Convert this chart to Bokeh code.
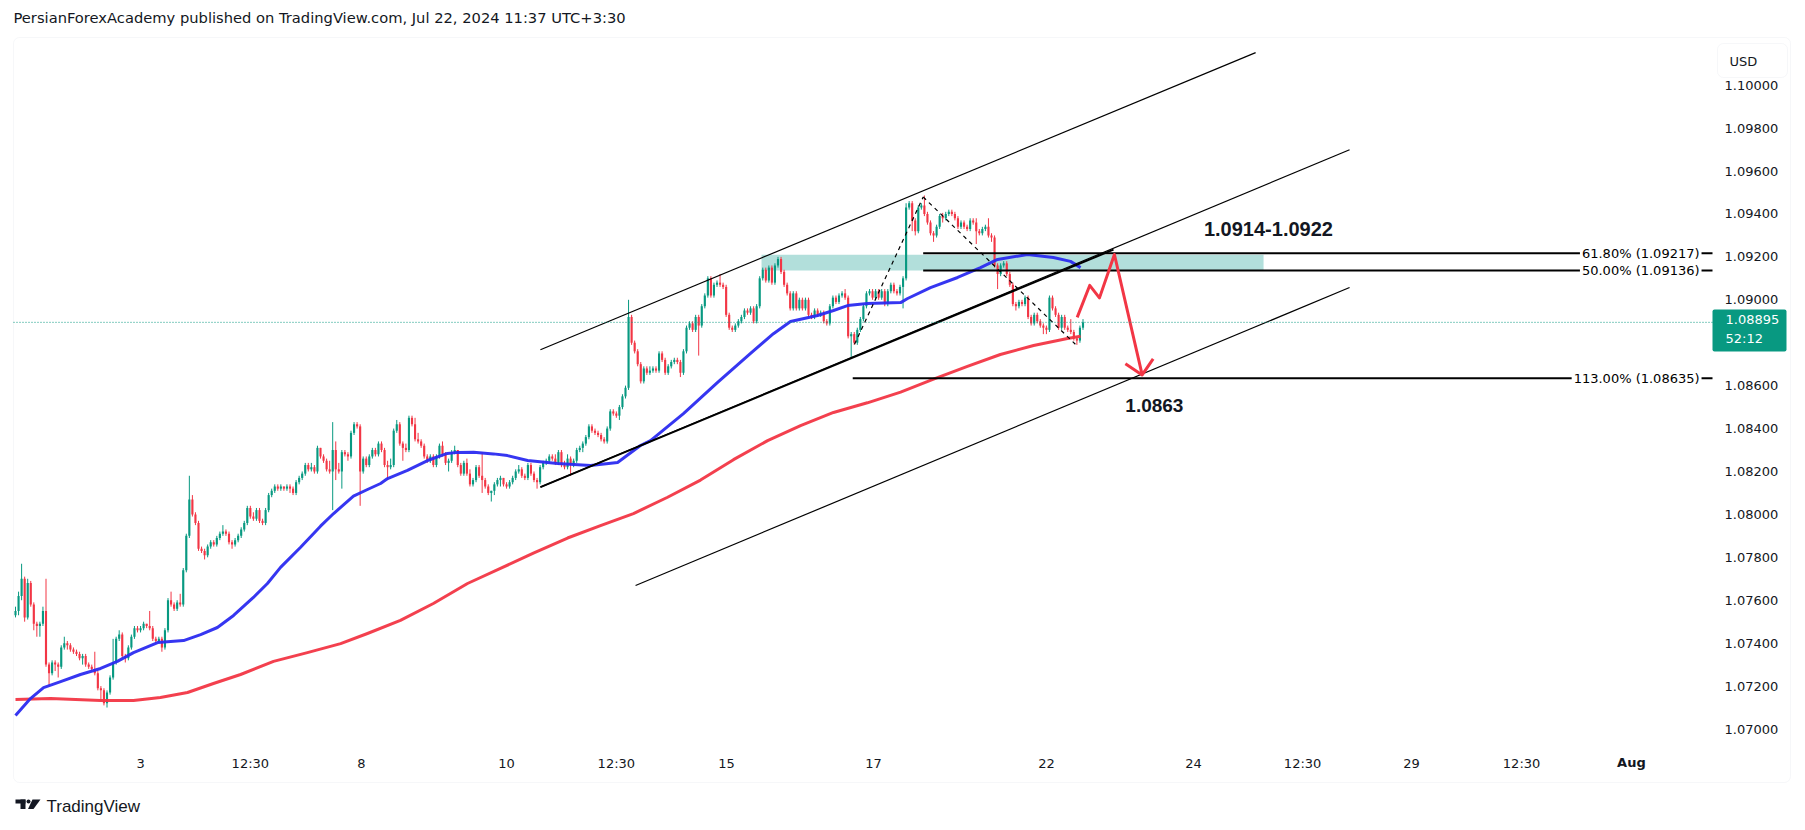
import numpy as np
from bokeh.plotting import figure
from bokeh.models import (Range1d, FixedTicker, Label, BoxAnnotation,
                          NumeralTickFormatter, ColumnDataSource)
from bokeh.embed import file_html
from bokeh.resources import INLINE
from bokeh.core.properties import value

# ---------------- data (EURUSD, 1h) : prices in pips above 1.07000 ----------------
BASE = 1.07000
PIP = 0.0001

first_open = 53
close_pips = [
    55, 62, 70, 52, 68, 58, 49, 48, 49, 55,
    30, 26, 31, 30, 29, 38, 40, 39, 37, 36,
    35, 33, 34, 30, 29, 28, 26, 19, 18, 12,
    17, 24, 31, 42, 44, 34, 33, 38, 43, 47,
    46, 47, 49, 48, 47, 42, 41, 42, 38, 46,
    60, 58, 56, 59, 58, 74, 90, 107, 100, 96,
    84, 83, 81, 85, 87, 86, 89, 91, 92, 91,
    87, 86, 88, 90, 93, 96, 103, 99, 98, 102,
    97, 96, 102, 109, 111, 113, 112, 113, 112, 113,
    112, 110, 115, 117, 119, 123, 121, 122, 120,
    131, 127, 125, 121, 120, 130, 121, 120, 129, 128,
    127, 138, 142, 141, 120, 126, 123, 127, 130, 128,
    133, 130, 123, 122, 123, 139, 142, 133, 131, 130,
    145, 142, 135, 134, 132, 127, 125, 127, 123, 127,
    132, 128, 124, 125, 129, 130, 123, 119, 124, 119,
    114, 116, 122, 118, 116, 113, 110, 111, 114, 116,
    117, 114, 113, 115, 117, 120, 121, 118, 117, 123,
    119, 116, 115, 122, 124, 125, 127, 126, 124, 129,
    123, 122, 126, 123, 125, 130, 131, 133, 136, 141,
    139, 138, 137, 135, 134, 140, 148, 147, 146, 150,
    155, 159,
    192, 180, 176, 170, 162, 168, 166, 167, 168, 167,
    175, 172, 166, 169, 171, 172, 171, 166, 176, 187,
    189, 186, 192, 188, 197, 202, 210, 202, 207, 208,
    207, 206, 193, 187, 186, 188, 190, 192, 195, 194,
    196, 190, 197, 210, 214, 209, 215, 208, 216, 219,
    213, 207, 203, 196, 203, 196, 200, 196, 200, 193,
    192, 195, 193, 194, 190, 189, 197, 201, 199, 202,
    203, 201, 183, 184, 180, 186, 191, 197, 203, 204,
    201, 204, 201, 204, 198, 204, 207, 204, 203, 206,
    210, 243,
    245, 237, 232, 243, 244, 240, 236, 231, 230, 234,
    239, 238, 240, 241, 240, 238, 234, 236, 234, 233,
    237, 236, 232, 231, 233, 234, 230, 229, 216, 212,
    216, 217, 212, 207, 198, 197, 199, 198, 201, 192,
    189, 193, 190, 188, 187, 186, 201, 196, 193, 187,
    192, 187, 186, 185, 182, 181, 187, 189.5,
]
high_pips = [
    57, 64, 77, 71, 70, 69, 59, 50, 50, 57,
    70, 31, 32, 32, 31, 39, 43, 41, 40, 38,
    37, 36, 35, 35, 31, 30, 36, 27, 20, 19,
    18, 25, 42, 43, 46, 45, 35, 39, 44, 48,
    48, 48, 50, 49, 55, 48, 43, 43, 43, 47,
    61, 64, 59, 60, 63, 75, 91, 118, 109, 101,
    97, 85, 84, 86, 88, 88, 90, 92, 95, 93,
    92, 88, 89, 91, 94, 97, 104, 104, 101, 103,
    103, 98, 103, 110, 112, 114, 114, 114, 113, 114,
    114, 113, 116, 118, 120, 124, 124, 124, 123,
    132, 131, 128, 126, 125, 143, 134, 124, 130, 130,
    129, 139, 143, 143, 142, 127, 127, 128, 131, 131,
    134, 134, 131, 125, 126, 140, 144, 143, 134, 133,
    146, 146, 145, 138, 135, 133, 128, 128, 128, 128,
    133, 134, 129, 126, 130, 132, 130, 124, 125, 126,
    121, 117, 123, 123, 129, 117, 114, 111, 115, 117,
    118, 117, 115, 116, 118, 121, 123, 122, 119, 124,
    124, 120, 117, 123, 125, 126, 128, 128, 128, 130,
    130, 125, 128, 127, 126, 131, 132, 134, 137, 142,
    142, 140, 139, 138, 136, 141, 149, 149, 148, 151,
    156, 160,
    200, 193, 181, 177, 171, 169, 169, 169, 169, 169,
    176, 176, 173, 170, 172, 173, 173, 172, 177, 188,
    190, 190, 193, 193, 198, 203, 211, 211, 208, 209,
    212, 208, 207, 194, 188, 189, 191, 193, 196, 196,
    197, 197, 198, 211, 215, 215, 216, 216, 217, 220,
    220, 214, 208, 204, 204, 204, 201, 201, 201, 201,
    194, 196, 196, 195, 195, 191, 198, 202, 202, 203,
    204, 205, 202, 185, 185, 187, 192, 198, 204, 205,
    205, 205, 205, 205, 205, 205, 208, 208, 205, 207,
    211, 245,
    246, 246, 238, 244, 245, 248.6, 241, 237, 232, 235,
    240, 240.5, 241, 242, 242, 241, 239, 237, 237, 235,
    238, 238, 238, 233, 234, 235, 238, 231, 230, 217,
    217, 218, 218, 213, 208, 199, 200, 200, 202, 202,
    193, 194, 194, 191, 189, 188, 202, 202, 197, 194,
    193, 193, 188, 191, 186, 183, 188, 191,
]
low_pips = [
    52, 53, 60, 50, 51, 57, 46, 43, 43, 48,
    29, 20, 25, 27, 24, 28, 37, 37, 36, 35,
    34, 32, 30, 29, 28, 27, 25, 18, 13, 11,
    10, 16, 23, 30, 41, 33, 31, 32, 37, 42,
    45, 45, 46, 47, 46, 41, 40, 40, 36, 37,
    45, 57, 55, 55, 57, 57, 73, 89, 99, 95,
    83, 82, 79, 80, 84, 85, 85, 88, 90, 90,
    86, 84, 85, 87, 89, 92, 95, 98, 97, 97,
    96, 95, 95, 101, 108, 110, 111, 111, 111, 111,
    110, 109, 109, 114, 116, 118, 120, 120, 119,
    119, 126, 124, 120, 119, 102, 116, 119, 112, 127,
    125, 126, 137, 140, 104, 119, 122, 122, 126, 127,
    127, 129, 122, 116, 121, 122, 138, 132, 125, 129,
    129, 141, 134, 133, 131, 126, 124, 124, 122, 122,
    126, 127, 123, 120, 124, 128, 122, 118, 118, 118,
    113, 113, 115, 117, 110, 112, 109, 106, 109, 113,
    113, 113, 112, 112, 114, 116, 119, 117, 116, 116,
    118, 115, 112, 114, 121, 123, 124, 125, 123, 123,
    122, 121, 121, 118, 122, 124, 129, 129, 132, 135,
    138, 137, 136, 134, 133, 133, 139, 146, 145, 144,
    149, 154,
    158, 179, 175, 169, 161, 161, 165, 165, 166, 166,
    166, 171, 165, 165, 168, 170, 170, 164, 165, 175,
    186, 185, 185, 174, 187, 196, 201, 201, 201, 206,
    206, 205, 192, 186, 185, 185, 187, 189, 191, 193,
    193, 189, 189, 196, 209, 208, 208, 207, 207, 215,
    212, 206, 202, 195, 195, 195, 195, 195, 195, 192,
    191, 191, 192, 192, 189, 188, 188, 196, 198, 198,
    201, 200, 182, 173, 179, 179, 185, 190, 196, 202,
    200, 200, 200, 200, 197, 197, 203, 203, 202, 202,
    196, 209,
    242, 232, 230, 231, 242, 239, 235, 230, 227, 229,
    233, 236, 237, 239, 239, 237, 233, 233, 233, 232,
    232, 235, 226, 230, 230, 232, 229, 227, 215, 205,
    211, 215, 211, 206, 197, 195, 196, 197, 197, 191,
    188, 188, 189, 187, 184, 184, 185, 195, 192, 186,
    186, 186, 185, 184, 181, 179, 180, 186,
]

# moving averages (bar index, pips above 1.07000)
blue_ma_bar = [0, 4.9, 9.2, 14.8, 21.3, 27.9, 33.4, 38.7, 46.6, 55.1,
               60.7, 66.2, 71.5, 78.0, 82.6, 86.9, 93.4, 100.0, 104.3, 110.8,
               115.4, 119.7, 122.0, 128.5, 135.1, 141.6, 144.9, 150.2, 156.7, 161.3,
               167.9, 177.7, 188.5, 197.4, 204.9, 208.2, 219.0, 230.2, 241.0, 248.5,
               254.1, 263.0, 268.2, 272.8, 279.3, 290.2, 292.5, 300.0, 308.9, 316.4,
               322.0, 331.8, 340.3, 345.9, 349.2]
blue_ma_pips = [6.3, 14.2, 19.3, 22.1, 25.4, 28.2, 31.5, 35.6, 40.3, 41.2,
                44.0, 47.3, 52.9, 61.3, 67.8, 75.3, 84.6, 94.5, 100.4, 108.5,
                111.6, 114.4, 116.7, 120.5, 125.1, 128.4, 128.9, 129.0, 128.2, 127.4,
                125.1, 123.7, 122.8, 124.2, 132.1, 134.4, 147.0, 161.5, 175.0, 184.2,
                189.9, 192.7, 195.0, 197.3, 198.3, 198.7, 200.6, 205.7, 210.4, 215.0,
                218.8, 221.1, 219.7, 217.9, 215.0]
red_ma_bar = [0, 11.5, 27.9, 38.7, 47.5, 56.4, 64.9, 73.8, 84.6, 95.7,
              106.6, 115.4, 126.2, 137.0, 148.2, 159.0, 169.8, 181.0, 191.8, 202.6,
              213.8, 224.6, 235.4, 246.6, 257.4, 268.2, 279.3, 290.2, 301.0, 312.1,
              322.9, 333.8, 344.9, 349.2]
red_ma_pips = [13.7, 14.2, 13.3, 13.3, 14.7, 17.0, 21.2, 25.4, 31.5, 35.6,
               39.8, 44.5, 50.6, 58.5, 67.8, 74.8, 82.0, 89.0, 94.8, 100.4,
               108.0, 116.0, 125.5, 134.4, 141.4, 147.5, 152.0, 157.0, 163.0, 169.0,
               174.5, 178.7, 182.0, 183.0]

# axis ticks
x_tick_pos = [41.0, 77.0, 113.4, 161.0, 197.0, 233.1, 281.3, 338.0, 386.2, 422.0, 457.7, 493.8, 529.8]
x_tick_lab = ["3", "12:30", "8", "10", "12:30", "15", "17", "22", "24", "12:30", "29", "12:30", "Aug"]
y_ticks = [1.070, 1.072, 1.074, 1.076, 1.078, 1.080, 1.082, 1.084,
           1.086, 1.088, 1.090, 1.092, 1.094, 1.096, 1.098, 1.100]

# drawings
fib_prices = [1.09217, 1.09136, 1.08635]
fib_start = [297.6, 297.6, 274.5]
fib_texts = ["61.80% (1.09217)", "50.00% (1.09136)", "113.00% (1.08635)"]
zone = dict(left=244.6, right=409.2, bottom=1.09136, top=1.09210)
chan_upper = ([172.1, 406.6], [1.08767, 1.10152])
chan_mid = ([172.1, 437.4], [1.08127, 1.09699])
trend_thick = ([172.1, 360.0], [1.08127, 1.09234])
chan_lower = ([203.3, 437.4], [1.07669, 1.09057])
dash_up = ([275.1, 297.6], [1.08793, 1.09479])
dash_down = ([297.6, 347.5], [1.09479, 1.08793])
arrow_path = ([348.1, 352.2, 355.4, 360.3, 369.4], [1.08918, 1.09067, 1.09009, 1.09211, 1.08650])
arrow_head = ([363.9, 369.4, 373.0], [1.08702, 1.08650, 1.08725])
last_price = 1.08895

UP = "#089981"
DOWN = "#f23645"
TXT = "#131722"

# ---------------- page geometry ----------------
W, H = 1800, 826          # canvas; the plotting frame covers all of it
BAR_PX, X0_PX = 3.05, 15.0  # bar spacing and pixel position of bar 0
PRICE_PX, Y0_PX = 21460.0, 728.5  # px per unit price, pixel row of 1.07000


def px2x(px):
    return (px - X0_PX) / BAR_PX


def px2y(py):
    return BASE + (Y0_PX - py) / PRICE_PX


def sbox(left, right, top, bottom, **kw):
    """box in page pixels (top-left origin)"""
    return BoxAnnotation(left=left, right=right, top=H - top, bottom=H - bottom,
                         left_units="screen", right_units="screen", top_units="screen",
                         bottom_units="screen", **kw)


PANE_RIGHT_PX, PANE_BOTTOM_PX = 1714, 748

p = figure(width=W, height=H, output_backend="svg", toolbar_location=None,
           x_range=Range1d(px2x(0), px2x(W)), y_range=Range1d(px2y(H), px2y(0)),
           y_axis_location="right",
           min_border_left=0, min_border_right=0, min_border_top=0, min_border_bottom=0)
p.title.visible = False
p.outline_line_color = None
p.xgrid.visible = False
p.ygrid.visible = False
p.background_fill_color = "white"
p.border_fill_color = "white"

for ax in (p.xaxis[0], p.yaxis[0]):
    ax.axis_line_color = None
    ax.major_tick_line_color = None
    ax.minor_tick_line_color = None
    ax.major_tick_out = 0
    ax.major_tick_in = 0
    ax.major_label_text_font = "DejaVu Sans"
    ax.major_label_text_font_size = "13px"
    ax.major_label_text_color = TXT

p.yaxis.fixed_location = px2x(PANE_RIGHT_PX)
p.yaxis.ticker = FixedTicker(ticks=y_ticks)
p.yaxis.formatter = NumeralTickFormatter(format="0.00000")
p.yaxis.major_label_standoff = 10
p.xaxis.fixed_location = px2y(PANE_BOTTOM_PX)
p.xaxis.ticker = FixedTicker(ticks=x_tick_pos)
overrides = {pos: lab for pos, lab in zip(x_tick_pos, x_tick_lab)}
overrides[x_tick_pos[-1]] = ""          # "Aug" is drawn bold below
p.xaxis.major_label_overrides = overrides
p.xaxis.major_label_standoff = 7

# outer chart border
p.add_layout(sbox(13, 1790, 37, 782, fill_color=None, line_color="#e0e3eb", line_width=1,
                  border_radius=6, level="underlay"))

# zone rectangle
p.quad(left=[zone["left"]], right=[zone["right"]], bottom=[zone["bottom"]], top=[zone["top"]],
       fill_color="#b2dfdb", line_color=None)

# candles
c = BASE + np.array(close_pips, dtype=float) * PIP
o = np.concatenate([[BASE + first_open * PIP], c[:-1]])
h = np.maximum.reduce([BASE + np.array(high_pips, dtype=float) * PIP, o, c])
l = np.minimum.reduce([BASE + np.array(low_pips, dtype=float) * PIP, o, c])
xi = np.arange(len(c))
up = c >= o
for mask, col in ((up, UP), (~up, DOWN)):
    src = ColumnDataSource(dict(x=xi[mask], top=np.maximum(o, c)[mask], bot=np.minimum(o, c)[mask],
                                hi=h[mask], lo=l[mask]))
    p.segment(x0="x", y0="hi", x1="x", y1="lo", source=src, line_color=col, line_width=1)
    p.vbar(x="x", width=0.7, top="top", bottom="bot", source=src, fill_color=col, line_color=None)

# moving averages
p.line(red_ma_bar, BASE + np.array(red_ma_pips) * PIP, line_color="#f23645", line_width=3,
       line_alpha=0.95, line_join="round")
p.line(blue_ma_bar, BASE + np.array(blue_ma_pips) * PIP, line_color="#2b2bf0", line_width=3,
       line_alpha=0.95, line_join="round")

# channel & trend lines
for xs, ys, w in ((chan_upper[0], chan_upper[1], 1.2), (chan_mid[0], chan_mid[1], 1.2),
                  (chan_lower[0], chan_lower[1], 1.2), (trend_thick[0], trend_thick[1], 2)):
    p.line(xs, ys, line_color="black", line_width=w)

# fib levels (run to the right edge of the price pane)
for fp, fs in zip(fib_prices, fib_start):
    p.line([fs, px2x(PANE_RIGHT_PX - 2)], [fp, fp], line_color="black", line_width=2)

# dashed swing lines
for xs, ys in (dash_up, dash_down):
    p.line(xs, ys, line_color="black", line_width=1.2, line_dash="4 4")

# red projection arrow
p.line(arrow_path[0], arrow_path[1], line_color="#f23645", line_width=3, line_join="round")
p.line(arrow_head[0], arrow_head[1], line_color="#f23645", line_width=3, line_join="round")

# bold annotations
p.text(x=[410.8], y=[1.09328], text=["1.0914-1.0922"],
       text_font=value("Liberation Sans"), text_font_style="bold", text_font_size="20px",
       text_align="center", text_baseline="middle", text_color=TXT)
p.text(x=[373.4], y=[1.08507], text=["1.0863"],
       text_font=value("Liberation Sans"), text_font_style="bold", text_font_size="19px",
       text_align="center", text_baseline="middle", text_color=TXT)

# last price dotted line
p.line([px2x(13), px2x(1712)], [last_price, last_price], line_color=UP, line_width=1, line_dash="1 2")

# fib labels
for fp, ft in zip(fib_prices, fib_texts):
    p.add_layout(Label(x=552.8, y=fp, text=ft, text_align="right", text_baseline="middle",
                       text_font="DejaVu Sans", text_font_size="13px", text_color="black",
                       background_fill_color="white", padding=2))

# bold "Aug" tick label
p.text(x=[x_tick_pos[-1]], y=[px2y(762)], text=["Aug"], text_font=value("DejaVu Sans"),
       text_font_style="bold", text_font_size="13px", text_align="center", text_baseline="middle",
       text_color=TXT)

# ---- price scale chrome ----
p.add_layout(sbox(1712, 1786, 309, 351, fill_color=UP, fill_alpha=1, line_color=None, border_radius=2))
p.add_layout(Label(x=1725, y=H - 318.7, x_units="screen", y_units="screen", text="1.08895",
                   text_font="DejaVu Sans", text_font_size="13px", text_color="white", text_baseline="middle"))
p.add_layout(Label(x=1725, y=H - 338.3, x_units="screen", y_units="screen", text="52:12",
                   text_font="DejaVu Sans", text_font_size="13px", text_color="white", text_baseline="middle"))
p.add_layout(sbox(1717, 1787, 43, 77, fill_color="white", fill_alpha=1, line_color="#e0e3eb",
                  line_width=1, border_radius=6))
p.add_layout(Label(x=1729, y=H - 60.5, x_units="screen", y_units="screen", text="USD",
                   text_font="DejaVu Sans", text_font_size="13px", text_color=TXT, text_baseline="middle"))

# ---- header / footer ----
p.add_layout(Label(x=13, y=H - 17, x_units="screen", y_units="screen",
                   text="PersianForexAcademy published on TradingView.com, Jul 22, 2024 11:37 UTC+3:30",
                   text_font="DejaVu Sans", text_font_size="14.7px", text_color=TXT, text_baseline="middle"))
p.add_layout(Label(x=46, y=H - 806, x_units="screen", y_units="screen", text="TradingView",
                   text_font="Liberation Sans", text_font_size="17px",
                   text_color=TXT, text_baseline="middle"))
# TradingView mark
p.add_layout(sbox(15, 25, 799, 803, fill_color=TXT, fill_alpha=1, line_color=None))
p.add_layout(sbox(20, 25, 799, 808.5, fill_color=TXT, fill_alpha=1, line_color=None))
p.add_layout(sbox(26, 30, 799, 803, fill_color=TXT, fill_alpha=1, line_color=None, border_radius=2))
p.patch([px2x(32), px2x(40), px2x(33), px2x(27.5)], [px2y(799), px2y(799), px2y(808.5), px2y(808.5)],
        fill_color=TXT, line_color=None)

open("out.html", "w").write(file_html(p, INLINE))
